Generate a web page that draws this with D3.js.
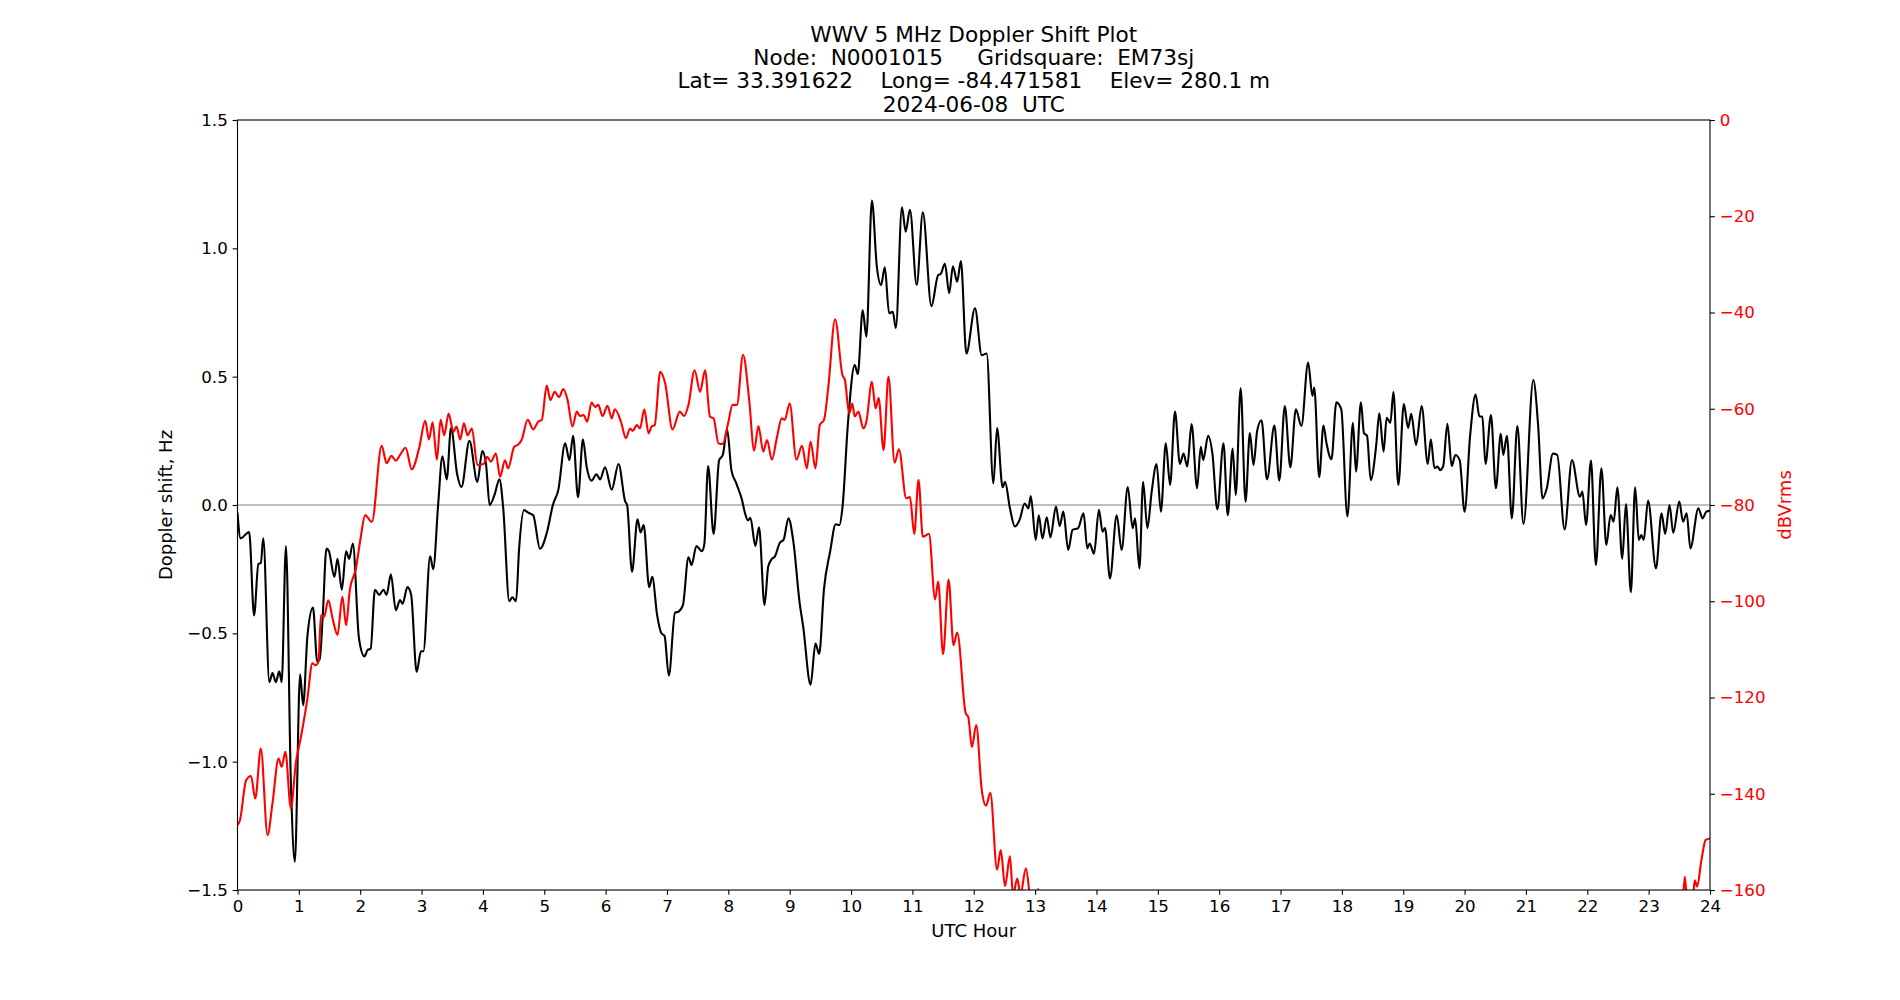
<!DOCTYPE html>
<html>
<head>
<meta charset="utf-8">
<script src="https://cdn.jsdelivr.net/npm/d3@7"></script>
<style>
  html, body { margin: 0; padding: 0; background: #fff; }
  svg { display: block; font-family: "DejaVu Sans", sans-serif; }
</style>
</head>
<body>
<svg id="chart" width="1900" height="1000"></svg>
<script>
// Doppler shift (black, left axis) — hour / Hz
const dopHour = [0.00,0.05,0.19,0.27,0.34,0.38,0.42,0.52,0.57,0.625,0.68,0.72,0.79,0.87,0.935,1.02,1.07,1.14,1.23,1.30,1.34,1.39,1.45,1.49,1.58,1.63,1.70,1.77,1.82,1.88,1.98,2.07,2.12,2.17,2.24,2.31,2.38,2.43,2.50,2.58,2.65,2.69,2.77,2.83,2.92,2.99,3.03,3.14,3.19,3.27,3.34,3.41,3.48,3.58,3.65,3.78,3.91,3.99,4.05,4.11,4.19,4.27,4.33,4.43,4.48,4.54,4.59,4.67,4.74,4.82,4.93,5.05,5.14,5.23,5.34,5.41,5.47,5.55,5.63,5.69,5.77,5.85,5.91,5.99,6.10,6.21,6.32,6.35,6.43,6.52,6.57,6.62,6.71,6.76,6.84,6.91,6.96,7.03,7.13,7.19,7.26,7.35,7.40,7.48,7.57,7.61,7.67,7.76,7.85,7.91,7.98,8.05,8.13,8.22,8.27,8.32,8.36,8.44,8.50,8.59,8.65,8.71,8.76,8.84,8.90,8.98,9.06,9.16,9.22,9.34,9.42,9.48,9.56,9.66,9.75,9.81,9.86,9.95,10.06,10.11,10.19,10.25,10.34,10.42,10.49,10.55,10.62,10.68,10.73,10.83,10.89,10.96,11.07,11.17,11.31,11.42,11.46,11.53,11.60,11.66,11.73,11.79,11.88,12.02,12.13,12.21,12.32,12.38,12.47,12.51,12.59,12.67,12.75,12.83,12.89,12.93,13.01,13.06,13.12,13.19,13.25,13.34,13.40,13.46,13.54,13.61,13.70,13.79,13.85,13.89,13.96,14.04,14.10,14.14,14.22,14.33,14.41,14.51,14.59,14.63,14.70,14.76,14.83,14.90,14.98,15.05,15.13,15.20,15.28,15.36,15.42,15.48,15.55,15.64,15.70,15.74,15.82,15.89,15.97,16.07,16.14,16.22,16.27,16.35,16.43,16.50,16.56,16.62,16.69,16.78,16.90,16.98,17.07,17.16,17.25,17.34,17.45,17.52,17.55,17.63,17.70,17.75,17.83,17.91,17.99,18.09,18.18,18.23,18.31,18.36,18.41,18.47,18.56,18.61,18.68,18.73,18.79,18.84,18.92,19.01,19.08,19.13,19.21,19.30,19.40,19.45,19.51,19.56,19.60,19.65,19.72,19.79,19.85,19.92,20.00,20.09,20.18,20.24,20.29,20.34,20.43,20.51,20.59,20.63,20.69,20.77,20.86,20.96,21.12,21.20,21.27,21.34,21.44,21.51,21.63,21.75,21.88,21.92,21.98,22.06,22.14,22.23,22.31,22.38,22.43,22.49,22.57,22.63,22.71,22.78,22.84,22.88,22.92,22.99,23.12,23.21,23.27,23.34,23.40,23.50,23.56,23.62,23.68,23.81,23.88,23.94,24.00];
const dopHz = [-0.03,-0.13,-0.105,-0.43,-0.23,-0.226,-0.13,-0.69,-0.655,-0.69,-0.648,-0.69,-0.16,-1.08,-1.39,-0.66,-0.78,-0.51,-0.40,-0.61,-0.60,-0.43,-0.17,-0.18,-0.28,-0.21,-0.33,-0.18,-0.21,-0.15,-0.52,-0.59,-0.565,-0.56,-0.33,-0.35,-0.33,-0.35,-0.27,-0.41,-0.37,-0.385,-0.32,-0.35,-0.65,-0.57,-0.57,-0.20,-0.25,0.0,0.19,0.10,0.30,0.12,0.07,0.25,0.09,0.21,0.16,0.0,0.04,0.10,-0.01,-0.375,-0.36,-0.375,-0.17,-0.02,-0.03,-0.04,-0.17,-0.10,0.0,0.06,0.24,0.175,0.27,0.03,0.256,0.15,0.095,0.12,0.10,0.147,0.06,0.16,0.013,0.0,-0.26,-0.056,-0.107,-0.078,-0.32,-0.28,-0.43,-0.50,-0.51,-0.665,-0.42,-0.415,-0.39,-0.204,-0.234,-0.16,-0.18,-0.15,0.152,-0.113,0.175,0.195,0.295,0.136,0.084,0.022,-0.03,-0.06,-0.05,-0.16,-0.087,-0.39,-0.24,-0.21,-0.20,-0.147,-0.136,-0.052,-0.143,-0.377,-0.474,-0.70,-0.54,-0.58,-0.325,-0.18,-0.075,-0.078,-0.01,0.32,0.545,0.51,0.76,0.656,1.186,0.93,0.857,0.926,0.747,0.753,0.69,1.16,1.065,1.15,0.857,1.14,0.775,0.896,0.90,0.94,0.825,0.93,0.87,0.95,0.59,0.766,0.584,0.59,0.084,0.30,0.069,0.09,-0.013,-0.084,-0.056,0.006,-0.013,0.035,-0.136,-0.04,-0.13,-0.048,-0.126,-0.006,-0.082,-0.026,-0.175,-0.097,-0.09,-0.032,-0.169,-0.15,-0.19,-0.019,-0.104,-0.09,-0.286,-0.04,-0.175,0.07,-0.09,-0.052,-0.247,0.09,-0.09,0.052,0.16,-0.026,0.24,0.078,0.364,0.16,0.20,0.15,0.315,0.065,0.227,0.175,0.27,0.20,-0.017,0.24,-0.04,0.22,0.039,0.455,0.013,0.28,0.156,0.29,0.33,0.10,0.31,0.095,0.386,0.147,0.373,0.308,0.555,0.425,0.458,0.108,0.31,0.24,0.178,0.40,0.373,-0.045,0.32,0.13,0.40,0.28,0.27,0.097,0.234,0.357,0.208,0.34,0.32,0.44,0.078,0.393,0.30,0.355,0.234,0.386,0.16,0.256,0.143,0.15,0.136,0.15,0.316,0.152,0.195,0.175,-0.026,0.27,0.43,0.346,0.344,0.16,0.35,0.065,0.277,0.195,0.27,-0.052,0.308,-0.074,0.487,0.305,0.026,0.065,0.20,0.195,-0.095,0.175,0.032,0.052,-0.078,0.173,-0.234,0.143,-0.156,-0.039,-0.065,0.069,-0.21,0.004,-0.34,0.069,-0.136,-0.117,-0.136,0.017,-0.247,-0.032,-0.113,0.0,-0.108,0.013,-0.065,-0.032,-0.169,-0.013,-0.052,-0.026,-0.022];

// Signal level (red, right axis) — hour / dBVrms
const pwrHour = [0.00,0.04,0.14,0.22,0.29,0.38,0.49,0.57,0.67,0.72,0.78,0.87,0.95,1.03,1.14,1.22,1.27,1.32,1.36,1.41,1.48,1.55,1.63,1.71,1.77,1.83,1.93,2.01,2.08,2.19,2.35,2.43,2.51,2.58,2.65,2.74,2.84,2.96,3.06,3.12,3.18,3.25,3.31,3.37,3.44,3.52,3.57,3.63,3.69,3.75,3.82,3.91,4.01,4.07,4.13,4.21,4.28,4.36,4.41,4.51,4.58,4.63,4.73,4.82,4.90,4.96,5.04,5.10,5.17,5.24,5.31,5.38,5.46,5.53,5.58,5.64,5.70,5.77,5.83,5.88,5.95,6.03,6.10,6.15,6.25,6.33,6.40,6.44,6.51,6.56,6.63,6.70,6.75,6.80,6.89,6.97,7.09,7.21,7.28,7.35,7.45,7.54,7.62,7.70,7.76,7.84,7.91,7.99,8.07,8.14,8.24,8.34,8.42,8.49,8.57,8.63,8.71,8.79,8.87,8.92,9.00,9.11,9.20,9.28,9.34,9.42,9.49,9.56,9.63,9.74,9.86,9.90,9.97,10.02,10.06,10.12,10.20,10.25,10.34,10.40,10.45,10.53,10.61,10.71,10.78,10.90,10.96,11.03,11.10,11.17,11.27,11.37,11.42,11.50,11.59,11.67,11.73,11.87,11.91,11.97,12.04,12.13,12.20,12.27,12.38,12.44,12.51,12.59,12.64,12.71,12.76,12.85,12.93,12.99,13.05,13.10,13.20,23.45,23.54,23.59,23.63,23.72,23.75,23.79,23.86,23.93,24.00];
const pwrDb = [-146.5,-145.5,-137.2,-136.3,-141,-130.6,-148.6,-142,-132.7,-134.4,-131.3,-143,-133.7,-128.5,-120.2,-112.9,-113.3,-112.6,-102.9,-103.2,-99.8,-103.6,-107,-99,-105,-97.7,-93.2,-86.6,-82.1,-83.5,-67.7,-71.3,-69.8,-70.8,-69.6,-68.1,-72.6,-68.2,-62.5,-66.4,-62.8,-70.6,-62.3,-65.5,-61,-64.8,-63.7,-66.4,-63,-65.5,-64.1,-71.7,-71.5,-70,-71,-69.3,-74.1,-70.7,-72.4,-67.9,-67.4,-66.5,-62.3,-64.3,-62.7,-62.3,-55.2,-58.2,-56.5,-57.6,-55.9,-58.2,-63.7,-60.6,-61.5,-61.3,-62.7,-58.7,-59.6,-59.2,-61.5,-59.4,-62,-60.1,-62.7,-66.1,-64.1,-64.6,-63.4,-64.1,-60.1,-65.1,-63.7,-63.4,-52.3,-54.7,-64.3,-60.6,-61.5,-59.2,-52,-56.5,-52,-61.6,-62,-67.2,-67.3,-63.4,-59.2,-59.2,-48.8,-58.2,-68.7,-63.6,-68.9,-66.5,-70.6,-66.1,-62,-62.3,-58.9,-70.6,-67.7,-72.4,-66.8,-72.4,-63.4,-62.3,-55.4,-41.4,-53,-54,-61,-58.9,-61.6,-60.6,-64.1,-62.7,-54.4,-59.9,-57.8,-68.6,-53.3,-71.2,-68.4,-78.6,-78.3,-86,-74.8,-86.6,-86,-99.6,-95.9,-111,-95.5,-109.1,-106.5,-123.3,-124,-130.3,-125.7,-139.2,-142.5,-139.8,-155.8,-151.7,-159.2,-153,-161,-157.6,-161,-155.5,-163,-166,-159.8,-166,-175,-175,-166,-157.2,-163,-162,-158,-159.3,-153.8,-149.6,-149.3];

const titleLines = [
    'WWV 5 MHz Doppler Shift Plot',
    'Node:  N0001015     Gridsquare:  EM73sj',
    'Lat= 33.391622    Long= -84.471581    Elev= 280.1 m',
    '2024-06-08  UTC'
];
const hourTicks = d3.range(0, 25, 1);
const hzTicks = [-1.5, -1.0, -0.5, 0.0, 0.5, 1.0, 1.5];
const dbTicks = [-160, -140, -120, -100, -80, -60, -40, -20, 0];

const W = 1900, H = 1000;
const margin = { top: 120, right: 190, bottom: 110, left: 237.5 };
const iw = W - margin.left - margin.right;
const ih = H - margin.top - margin.bottom;
const tickLen = 4.86, tickPad = 4.86;
const tickFs = 16.7, labelFs = 18, titleFs = 21.6, lineH = 23.3;

const svg = d3.select('#chart');
const g = svg.append('g').attr('transform', `translate(${margin.left},${margin.top})`);

const x = d3.scaleLinear().domain([0, 24]).range([0, iw]);
const yHz = d3.scaleLinear().domain([-1.5, 1.5]).range([ih, 0]);
const yDb = d3.scaleLinear().domain([-160, 0]).range([ih, 0]);

g.append('clipPath').attr('id', 'plot-clip')
    .append('rect').attr('width', iw).attr('height', ih);

// Zero reference line
g.append('line')
    .attr('x1', 0).attr('x2', iw)
    .attr('y1', yHz(0)).attr('y2', yHz(0))
    .attr('stroke', '#808080').attr('stroke-width', 1);

const dopData = dopHour.map((h, i) => ({ h, v: dopHz[i] }));
const pwrData = pwrHour.map((h, i) => ({ h, v: pwrDb[i] }));

g.append('path').datum(dopData)
    .attr('clip-path', 'url(#plot-clip)')
    .attr('d', d3.line().x(d => x(d.h)).y(d => yHz(d.v)).curve(d3.curveMonotoneX))
    .attr('fill', 'none').attr('stroke', '#000').attr('stroke-width', 2.1)
    .attr('stroke-linejoin', 'round');

g.append('path').datum(pwrData)
    .attr('clip-path', 'url(#plot-clip)')
    .attr('d', d3.line().x(d => x(d.h)).y(d => yDb(d.v)).curve(d3.curveMonotoneX))
    .attr('fill', 'none').attr('stroke', '#ff0000').attr('stroke-width', 2.1)
    .attr('stroke-linejoin', 'round');

// Axes
function styleAxis(sel, color) {
    sel.select('.domain').remove();
    sel.selectAll('.tick line').attr('stroke', '#000').attr('stroke-width', 1.1);
    sel.selectAll('.tick text')
        .attr('fill', color).attr('font-size', tickFs)
        .attr('font-family', '"DejaVu Sans", sans-serif');
}

g.append('g').attr('transform', `translate(0,${ih})`)
    .call(d3.axisBottom(x).tickValues(hourTicks).tickFormat(d3.format('d'))
        .tickSize(tickLen).tickPadding(tickPad))
    .call(s => styleAxis(s, '#000'));

g.append('g')
    .call(d3.axisLeft(yHz).tickValues(hzTicks).tickFormat(d3.format('.1f'))
        .tickSize(tickLen).tickPadding(tickPad))
    .call(s => styleAxis(s, '#000'));

g.append('g').attr('transform', `translate(${iw},0)`)
    .call(d3.axisRight(yDb).tickValues(dbTicks).tickFormat(d3.format('d'))
        .tickSize(tickLen).tickPadding(tickPad))
    .call(s => styleAxis(s, '#ff0000'));

// Frame
g.append('rect')
    .attr('width', iw).attr('height', ih)
    .attr('fill', 'none').attr('stroke', '#000').attr('stroke-width', 1.1);

// Labels
g.append('text')
    .attr('x', iw / 2).attr('y', ih + 47)
    .attr('text-anchor', 'middle').attr('font-size', labelFs).attr('fill', '#000')
    .text('UTC Hour');

g.append('text')
    .attr('transform', `translate(${172 - margin.left},${ih / 2}) rotate(-90)`)
    .attr('text-anchor', 'middle').attr('font-size', labelFs).attr('fill', '#000')
    .text('Doppler shift, Hz');

g.append('text')
    .attr('transform', `translate(${1791 - margin.left},${ih / 2}) rotate(-90)`)
    .attr('text-anchor', 'middle').attr('font-size', labelFs).attr('fill', '#ff0000')
    .text('dBVrms');

// Title (4 lines, last baseline just above the frame)
titleLines.forEach((t, i) => {
    g.append('text')
        .attr('x', iw / 2)
        .attr('y', -8.3 - (titleLines.length - 1 - i) * lineH)
        .attr('text-anchor', 'middle').attr('font-size', titleFs).attr('fill', '#000')
        .style('white-space', 'pre')
        .text(t);
});
</script>
</body>
</html>
